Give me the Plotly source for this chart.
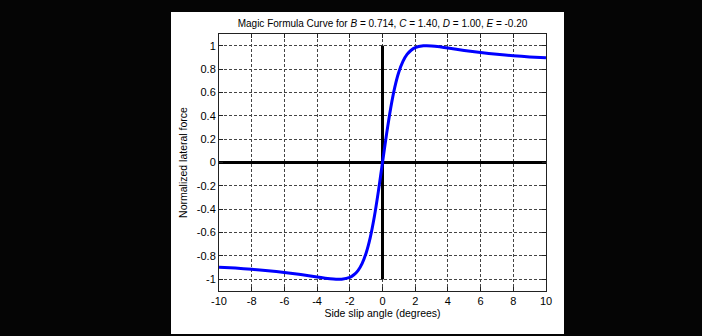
import plotly.graph_objects as go

# Side slip angle (degrees) and normalized lateral force of the tyre curve
slip_pos = [0.0, 0.25, 0.5, 0.75, 1.0, 1.25, 1.5, 1.75, 2.0, 2.5, 2.7, 3.0, 3.5, 4.0, 5.0, 6.0, 7.0, 8.0, 9.0, 10.0]
force_pos = [0.0, 0.245, 0.465, 0.643, 0.774, 0.865, 0.925, 0.961, 0.983, 0.999, 1.000, 0.998, 0.990, 0.980, 0.959, 0.941, 0.927, 0.914, 0.904, 0.896]

slip = [-s for s in reversed(slip_pos[1:])] + slip_pos
force = [-f for f in reversed(force_pos[1:])] + force_pos

# Reference axes drawn through the origin
h_axis_x = [-10, 10]
h_axis_y = [0, 0]
v_axis_x = [0, 0]
v_axis_y = [-1, 1]

x_ticks = [-10, -8, -6, -4, -2, 0, 2, 4, 6, 8, 10]
y_ticks = [-1, -0.8, -0.6, -0.4, -0.2, 0, 0.2, 0.4, 0.6, 0.8, 1]
y_tick_text = ["-1", "-0.8", "-0.6", "-0.4", "-0.2", "0", "0.2", "0.4", "0.6", "0.8", "1"]

W, H = 702, 336
L, R, T, B = 219, 156, 34, 45
pw, ph = W - L - R, H - T - B

fig = go.Figure()
fig.add_trace(go.Scatter(x=h_axis_x, y=h_axis_y, mode="lines",
                         line=dict(color="black", width=3), hoverinfo="skip"))
fig.add_trace(go.Scatter(x=v_axis_x, y=v_axis_y, mode="lines",
                         line=dict(color="black", width=3), hoverinfo="skip"))
fig.add_trace(go.Scatter(x=slip, y=force, mode="lines",
                         line=dict(color="#0000ff", width=3, shape="spline", smoothing=0.6)))

# white figure panel on the black page
fig.add_shape(type="rect", xref="paper", yref="paper", layer="below",
              x0=(171 - L) / pw, x1=(564 - L) / pw,
              y0=(H - B - 334) / ph, y1=(H - B - 12) / ph,
              fillcolor="white", line=dict(width=0))

axis_common = dict(
    showline=True, linecolor="#222", linewidth=1, mirror="allticks",
    ticks="inside", ticklen=4, tickcolor="#222",
    showgrid=True, gridcolor="#444", gridwidth=1, griddash="3px,2px",
    zeroline=False, tickfont=dict(size=11, color="black"),
)

fig.update_xaxes(range=[-10, 10], tickvals=x_ticks, ticktext=[str(t) for t in x_ticks],
                 title=dict(text="Side slip angle (degrees)", font=dict(size=10.5, color="black"), standoff=3),
                 **axis_common)
fig.update_yaxes(range=[-1.1, 1.1], tickvals=y_ticks, ticktext=y_tick_text,
                 title=dict(text="Normalized lateral force", font=dict(size=10.5, color="black"), standoff=7),
                 **axis_common)

fig.update_layout(
    width=W, height=H,
    margin=dict(l=L, r=R, t=T, b=B, pad=0),
    paper_bgcolor="#050505", plot_bgcolor="white",
    showlegend=False,
    font=dict(family="Liberation Sans, Arial, sans-serif", size=11, color="black"),
    title=dict(text="Magic Formula Curve for <i>B</i> = 0.714, <i>C</i> = 1.40, <i>D</i> = 1.00, <i>E</i> = -0.20",
               x=(L + pw / 2) / W, xanchor="center", y=1 - 23 / H, yanchor="middle",
               font=dict(size=10, color="black")),
)

fig.write_html("out.html")
